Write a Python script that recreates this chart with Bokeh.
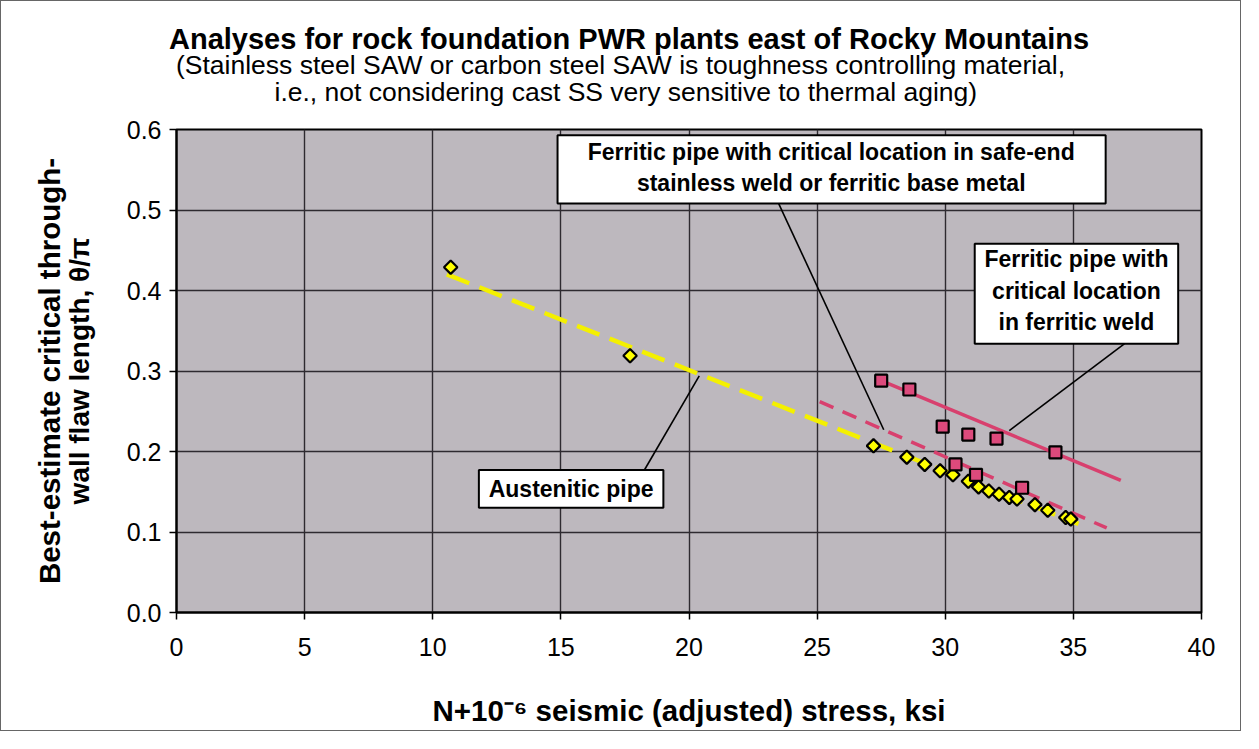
import numpy as np
from bokeh.plotting import figure
from bokeh.models import Range1d, FixedTicker, BoxAnnotation, Label, Title
from bokeh.embed import file_html
from bokeh.resources import INLINE

# ---------------- data ----------------
x_ticks = [0, 5, 10, 15, 20, 25, 30, 35, 40]
x_tick_labels = ["0", "5", "10", "15", "20", "25", "30", "35", "40"]
y_ticks = [0.0, 0.1, 0.2, 0.3, 0.4, 0.5, 0.6]
y_tick_labels = ["0.0", "0.1", "0.2", "0.3", "0.4", "0.5", "0.6"]

# Austenitic pipe (yellow diamonds)
aus_x = [10.7, 17.7, 27.2, 28.5, 29.2, 29.8, 30.3, 30.9, 31.3, 31.7, 32.1, 32.5, 32.8, 33.5, 34.0, 34.7, 34.9]
aus_y = [0.429, 0.319, 0.207, 0.193, 0.184, 0.176, 0.171, 0.163, 0.156, 0.151, 0.147, 0.143, 0.141, 0.134, 0.127, 0.118, 0.116]
# Ferritic pipe, critical location in ferritic weld (pink squares, solid trend)
fw_x = [27.5, 28.6, 29.9, 30.9, 32.0, 34.3]
fw_y = [0.288, 0.277, 0.231, 0.221, 0.216, 0.199]
# Ferritic pipe, critical location in safe-end stainless weld / ferritic base metal (pink squares, dashed trend)
se_x = [30.4, 31.2, 33.0]
se_y = [0.184, 0.171, 0.155]

# trend lines (end points)
aus_trend_x = [10.55, 35.2]
aus_trend_y = [0.420, 0.110]
se_trend_x = [25.1, 36.3]
se_trend_y = [0.262, 0.105]
fw_trend_x = [27.5, 36.85]
fw_trend_y = [0.288, 0.164]

FONT = "Liberation Sans"
PINK = "#d8406e"
PINK_FILL = "#dc4a7c"
YELLOW = "#ffff00"

p = figure(width=1241, height=731, output_backend="svg", toolbar_location=None,
           x_range=Range1d(0, 40), y_range=Range1d(0, 0.6),
           min_border_left=175, min_border_right=41, min_border_top=128, min_border_bottom=120)
p.styles = {"border": "1px solid #666"}

p.background_fill_color = "#bdb8be"
p.border_fill_color = "white"
p.outline_line_color = "black"
p.outline_line_width = 2

for ax in (p.xaxis[0], p.yaxis[0]):
    ax.axis_line_color = "black"
    ax.axis_line_width = 2
    ax.major_tick_line_color = "black"
    ax.major_tick_line_width = 1.5
    ax.major_tick_out = 7
    ax.major_tick_in = 0
    ax.minor_tick_line_color = None
    ax.major_label_text_font = FONT
    ax.major_label_text_font_size = "25px"
    ax.major_label_text_color = "black"
    ax.axis_label_text_font = FONT
    ax.axis_label_text_font_style = "bold"
    ax.axis_label_text_color = "black"

p.xaxis.ticker = FixedTicker(ticks=x_ticks)
p.yaxis.ticker = FixedTicker(ticks=y_ticks)
p.xaxis.major_label_overrides = {t: l for t, l in zip(x_ticks, x_tick_labels)}
p.yaxis.major_label_overrides = {t: l for t, l in zip(y_ticks, y_tick_labels)}
p.xaxis.major_label_standoff = 18
p.yaxis.major_label_standoff = 8

p.xaxis.axis_label = "N+10\u207b\u2076 seismic (adjusted) stress, ksi"
p.xaxis.axis_label_text_font_size = "29.5px"
p.xaxis.axis_label_standoff = 35

p.yaxis.axis_label = "wall flaw length, \u03b8/\u03c0"
p.yaxis.axis_label_text_font_size = "28px"
p.yaxis.axis_label_standoff = 29

p.xgrid.ticker = FixedTicker(ticks=x_ticks)
p.ygrid.ticker = FixedTicker(ticks=y_ticks)
p.grid.grid_line_color = "#2e2a30"
p.grid.grid_line_width = 1.4

# titles (added inner-most first); a blank spacer keeps them clear of the frame
p.add_layout(Title(text=" ", text_font=FONT, text_font_size="18.7px", standoff=0), "above")
p.add_layout(Title(text="i.e., not considering cast SS very sensitive to thermal aging)", align="left", offset=98,
                   text_font=FONT, text_font_size="26.5px", text_font_style="normal", text_color="black",
                   standoff=0), "above")
p.add_layout(Title(text="(Stainless steel SAW or carbon steel SAW is toughness controlling material,", align="left",
                   offset=-0.5, text_font=FONT, text_font_size="26.5px", text_font_style="normal",
                   text_color="black", standoff=-11), "above")
p.add_layout(Title(text="Analyses for rock foundation PWR plants east of Rocky Mountains", align="left", offset=-7.5,
                   text_font=FONT, text_font_size="29px", text_font_style="bold", text_color="black",
                   standoff=-3), "above")
p.add_layout(Title(text="Best-estimate critical through-", align="center",
                   text_font=FONT, text_font_size="29.5px", text_font_style="bold", text_color="black",
                   standoff=-10), "left")

# trend lines
p.line(aus_trend_x, aus_trend_y, line_color="#f4f000", line_width=4.5, line_dash="24 11")
p.line(se_trend_x, se_trend_y, line_color=PINK, line_width=3.5, line_dash="15 10")
p.line(fw_trend_x, fw_trend_y, line_color=PINK, line_width=3.5)

# markers
p.scatter(aus_x, aus_y, marker="square", angle=np.pi / 4, size=9.5,
          fill_color=YELLOW, line_color="black", line_width=2.2)
p.scatter(fw_x, fw_y, marker="square", size=12,
          fill_color=PINK_FILL, line_color="black", line_width=2.2)
p.scatter(se_x, se_y, marker="square", size=12,
          fill_color=PINK_FILL, line_color="black", line_width=2.2)

# leader lines
p.segment(x0=[23.5, 37.0, 18.26], y0=[0.508, 0.334, 0.177],
          x1=[27.6, 32.5, 20.4], y1=[0.227, 0.226, 0.294],
          line_color="black", line_width=1.6)

# annotation boxes
for (l, r, t, b) in [(14.87, 36.26, 0.593, 0.508), (31.15, 39.09, 0.458, 0.334), (11.8, 19.0, 0.177, 0.130)]:
    p.add_layout(BoxAnnotation(left=l, right=r, top=t, bottom=b, fill_color="white", fill_alpha=1.0,
                               line_color="black", line_alpha=1.0, line_width=2))


def lab(x, y, text, size="23px"):
    p.add_layout(Label(x=x, y=y, text=text, text_font=FONT, text_font_size=size,
                       text_font_style="bold", text_color="black",
                       text_align="center", text_baseline="middle"))


lab(25.55, 0.572, "Ferritic pipe with critical location in safe-end")
lab(25.55, 0.5335, "stainless weld or ferritic base metal")
lab(35.12, 0.4396, "Ferritic pipe with")
lab(35.12, 0.3995, "critical location")
lab(35.12, 0.361, "in ferritic weld")
lab(15.4, 0.154, "Austenitic pipe")

open("out.html", "w").write(file_html(p, INLINE))
